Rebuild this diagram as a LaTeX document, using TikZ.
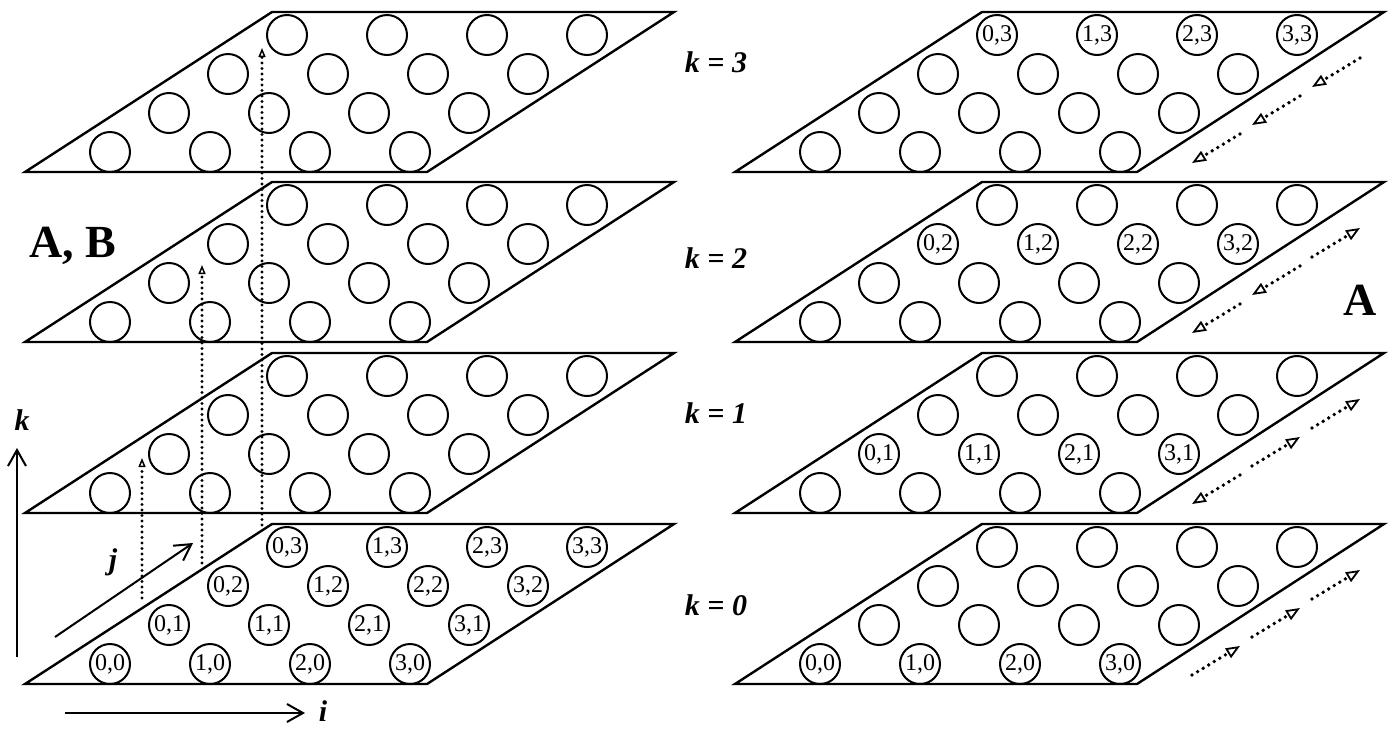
\documentclass[tikz,border=0pt]{standalone}
\usepackage{fontspec}
\setmainfont{Liberation Serif}
\usetikzlibrary{arrows.meta, positioning}
\tikzset{
    cell/.style={circle, draw, line width=2pt, minimum size=40pt,
                 inner sep=0pt, font=\fontsize{24}{24}\selectfont},
    plane/.style={line width=2.4pt, line join=miter},
    axis/.style={-{Straight Barb[length=16pt,width=18pt,line width=2pt]},
                 line width=2pt},
    rise/.style={-{Triangle[open,length=9pt,width=7pt,line width=1.5pt]},
                 line width=3.4pt, dash pattern=on 0pt off 5.5pt, line cap=round},
    flow/.style={-{Triangle[open,length=14pt,width=11pt,line width=1.8pt]},
                 line width=3.8pt, dash pattern=on 0pt off 6.5pt, line cap=round},
    lvl/.style={font=\fontsize{30}{30}\selectfont\bfseries\itshape},
    axlbl/.style={font=\fontsize{30}{30}\selectfont\bfseries\itshape},
    big/.style={font=\fontsize{46}{46}\selectfont\bfseries},
}
\begin{document}
\begin{tikzpicture}[x=1pt, y=-1pt]
\useasboundingbox (0,0) rectangle (1395,729);

% --- the four planes, left and right stack ---
\foreach \bx in {25,735}{
  \foreach \yb in {172,342,513,684}{
    \draw[plane] (\bx,\yb) -- ++(402,0) -- ++(247,-160) -- ++(-402,0) -- cycle;
  }
}

% --- cells on every plane ---
\foreach \k/\yb in {0/684,1/513,2/342,3/172}{
  \foreach \i in {0,...,3}{
    \foreach \j in {0,...,3}{
      \node[cell] (L\k-\i\j) at ({110+100*\i+59*\j}, {\yb-20-39*\j})
          {\ifnum\k=0\relax \i,\j\fi};
      \node[cell] (R\k-\i\j) at ({820+100*\i+59*\j}, {\yb-20-39*\j})
          {\ifnum\k=\j\relax \i,\j\fi};
    }
  }
}

% --- dotted risers, left stack ---
\coordinate (s1) at (142,598); \coordinate (t1) at (142,458);
\coordinate (s2) at (202,563); \coordinate (t2) at (202,265);
\coordinate (s3) at (262,525); \coordinate (t3) at (262,48);
\draw[rise] (s1) -- (t1);
\draw[rise] (s2) -- (t2);
\draw[rise] (s3) -- (t3);

% --- dotted shifts, right stack ---
\foreach \k/\yb in {0/684,1/513,2/342,3/172}{
  \foreach \n in {0,1,2}{
    \coordinate (a\k\n) at ({1192+60*\n}, {\yb-9-38*\n});
    \coordinate (b\k\n) at ({1240+60*\n}, {\yb-38-38*\n});
    \ifnum\n<\k
      \draw[flow] (b\k\n) -- (a\k\n);
    \else
      \draw[flow] (a\k\n) -- (b\k\n);
    \fi
  }
}

% --- axes ---
\coordinate (k0) at (17,657); \coordinate (k1) at (17,448);
\coordinate (j0) at (55,637); \coordinate (j1) at (193,543);
\coordinate (i0) at (65,713); \coordinate (i1) at (305,713);
\draw[axis] (k0) -- (k1);
\draw[axis] (j0) -- (j1);
\draw[axis] (i0) -- (i1);
\node[axlbl] (klbl) at (22,420) {k};
\node[axlbl] (jlbl) at (113,562) {j};
\node[axlbl] (ilbl) at (323,711) {i};

% --- labels ---
\node[lvl] (lv3) at (716,62) {k = 3};
\node[lvl] (lv2) at (716,258) {k = 2};
\node[lvl] (lv1) at (716,413) {k = 1};
\node[lvl] (lv0) at (716,605) {k = 0};
\node[big] (ab) at (73,246) {A, B};
\node[big] (aa) at (1360,300) {A};
\end{tikzpicture}
\end{document}
